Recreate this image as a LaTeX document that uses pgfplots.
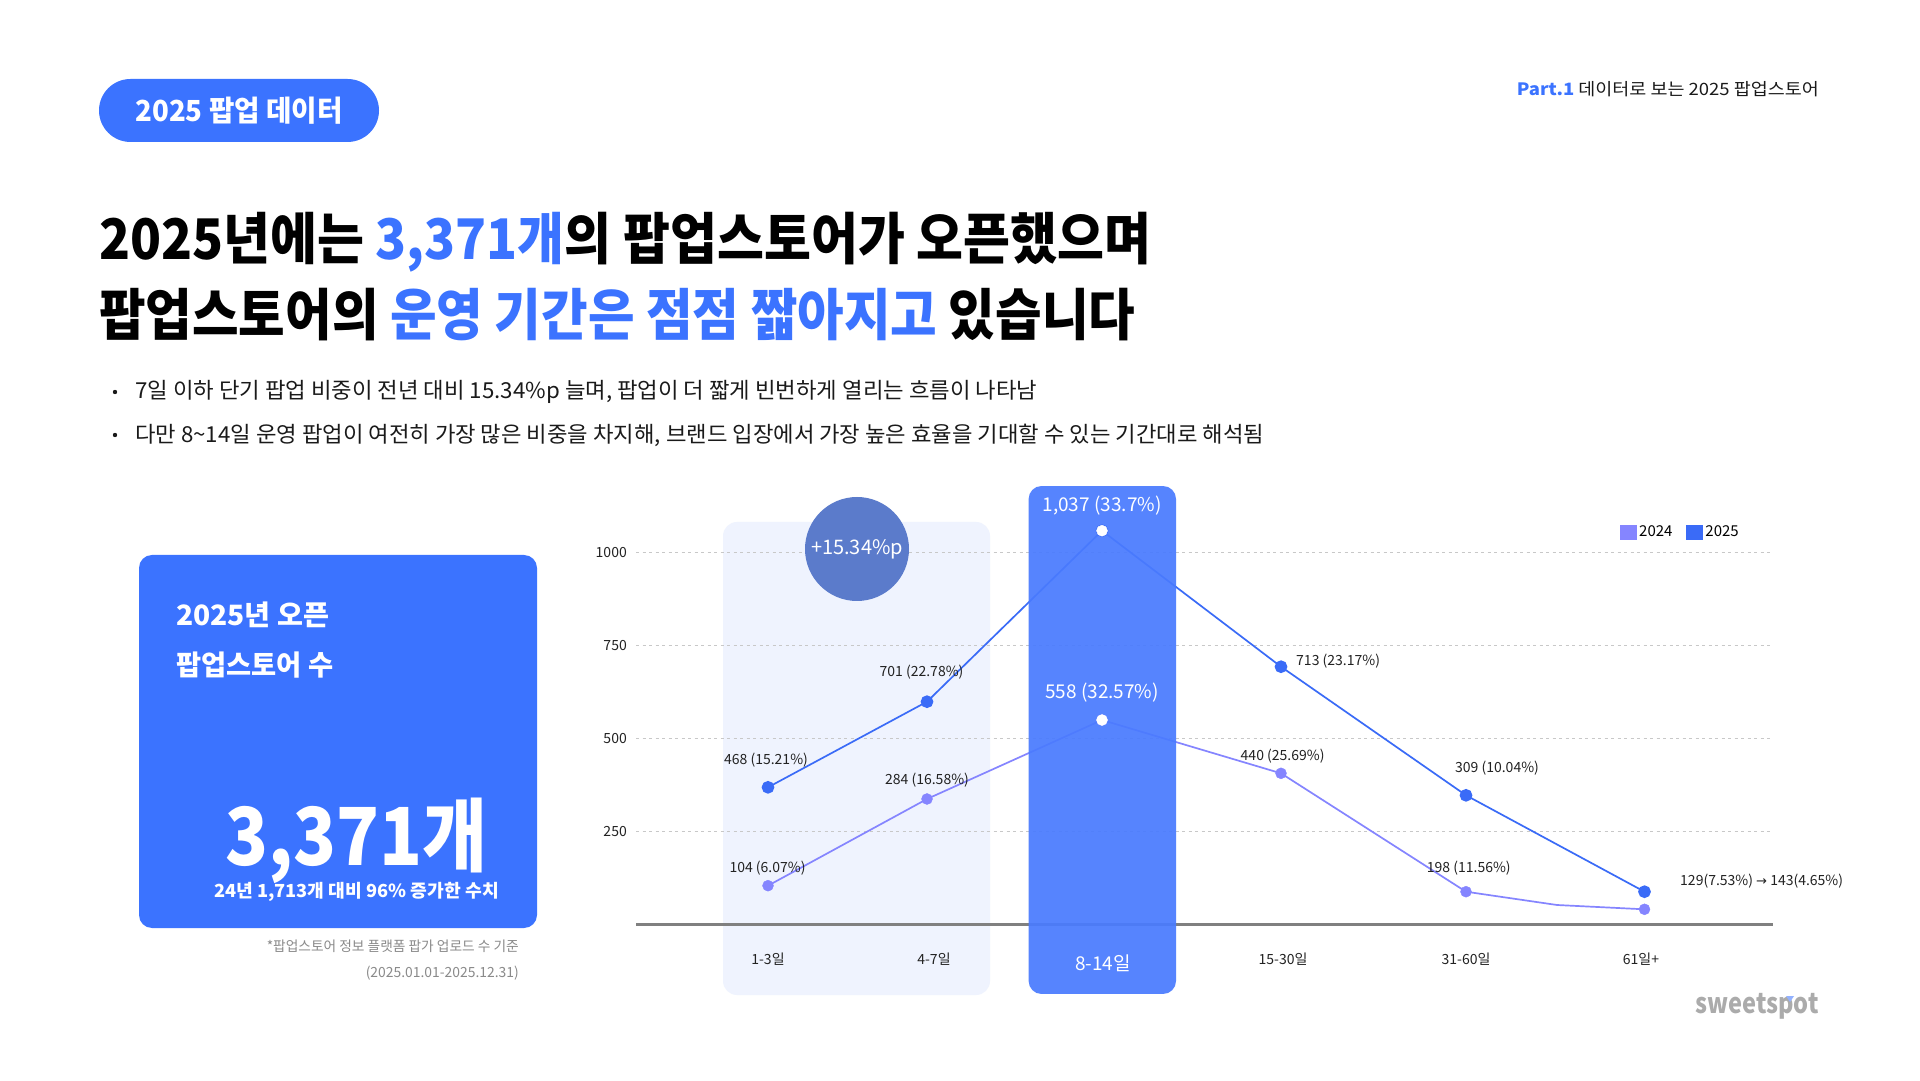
\documentclass[border=0pt]{standalone}
\usepackage{pgfplots}
\pgfplotsset{compat=1.18}
\usepackage{graphicx}
\usepackage{fontspec}
\setmainfont{Noto Sans CJK KR}
\newfontfamily\symfont{DejaVu Sans}
\definecolor{mainblue}{HTML}{3B73FF}
\definecolor{line25}{HTML}{3A6BF7}
\definecolor{line24}{HTML}{8585FF}
\definecolor{bandblue}{HTML}{4A7BFE}
\definecolor{lightband}{HTML}{EFF3FE}
\definecolor{circ}{HTML}{5B7BCB}
\definecolor{gridc}{HTML}{C8C8C8}
\definecolor{basec}{HTML}{808080}
\definecolor{footc}{HTML}{8A8A8A}
\definecolor{logoc}{HTML}{ABABAB}
\definecolor{txt}{HTML}{1A1A1A}
\definecolor{labc}{HTML}{222222}
\newcommand{\fs}[1]{\fontsize{#1pt}{#1pt}\selectfont}
\newcommand{\fitw}[2]{\resizebox{#1}{\height}{#2}}
\begin{document}
\begin{tikzpicture}[x=1pt,y=1pt]
\useasboundingbox (0,0) rectangle (1920,1080);
\fill[white] (0,0) rectangle (1920,1080);
% pill
\fill[mainblue, rounded corners=31.5pt] (99,938) rectangle (379,1001);
\node[text=white, inner sep=0pt] at (239,969.5) {\fitw{207pt}{\fs{29}\bfseries 2025 팝업 데이터}};
% top right
\node[anchor=east, inner sep=0pt, text=txt] at (1819,991) {\fitw{302pt}{\fs{17}{\bfseries\color{mainblue}Part.1} 데이터로 보는 2025 팝업스토어}};
% title
\node[anchor=base west, inner sep=0pt, text=black] at (99,820.4) {\fitw{1052pt}{\fs{56}\bfseries 2025년에는 {\color{mainblue}3,371개}의 팝업스토어가 오픈했으며}};
\node[anchor=base west, inner sep=0pt, text=black] at (99,744.4) {\fitw{1036pt}{\fs{56}\bfseries 팝업스토어의 {\color{mainblue}운영 기간은 점점 짧아지고} 있습니다}};
% bullets
\fill[txt] (115,688) circle (2.2);
\node[anchor=west, inner sep=0pt, text=txt] at (135,688) {\fitw{902pt}{\fs{22}7일 이하 단기 팝업 비중이 전년 대비 15.34\%p 늘며, 팝업이 더 짧게 빈번하게 열리는 흐름이 나타남}};
\fill[txt] (115,645) circle (2.2);
\node[anchor=west, inner sep=0pt, text=txt] at (135,645) {\fitw{1129pt}{\fs{22}다만 8\textasciitilde14일 운영 팝업이 여전히 가장 많은 비중을 차지해, 브랜드 입장에서 가장 높은 효율을 기대할 수 있는 기간대로 해석됨}};
% left box
\fill[mainblue, rounded corners=13pt] (139,152) rectangle (537,525);
\node[anchor=west, inner sep=0pt, text=white] at (176,465) {\fitw{153pt}{\fs{28}\bfseries 2025년 오픈}};
\node[anchor=west, inner sep=0pt, text=white] at (176,415) {\fitw{157pt}{\fs{28}\bfseries 팝업스토어 수}};
\node[anchor=base east, inner sep=0pt, text=white] at (488,215) {\fitw{262pt}{\fs{80}\bfseries 3,371개}};
\node[inner sep=0pt, text=white] at (356.5,188) {\fitw{285pt}{\fs{18}\bfseries 24년 1,713개 대비 96\% 증가한 수치}};
% footnote
\node[anchor=east, inner sep=0pt, text=footc] at (519,134) {\fitw{252pt}{\fs{14}*팝업스토어 정보 플랫폼 팝가 업로드 수 기준}};
\node[anchor=east, inner sep=0pt, text=footc] at (519,107) {\fitw{153pt}{\fs{14}(2025.01.01-2025.12.31)}};
% logo
\node[inner sep=0pt, text=logoc] at (1757,74) {\fitw{123pt}{\fs{28}\bfseries sweetspot}};
\fill[mainblue!55] (1786,84) -- (1794,84) -- (1790,78) -- cycle;
% light band
\fill[lightband, rounded corners=14pt] (723,85) rectangle (990,558);
\begin{axis}[
  at={(636pt,155.5pt)}, anchor=south west,
  scale only axis, width=1137pt, height=372.2pt,
  xmin=636, xmax=1773, ymin=0, ymax=1000,
  clip=false,
  axis line style={draw=none},
  major tick length=0pt,
  xtick=\empty,
  ytick={250,500,750,1000},
  yticklabels={250,500,750,1000},
  yticklabel style={font=\fs{14}, text=labc, inner sep=0pt, xshift=-9pt, anchor=east},
  ymajorgrids,
  grid style={gridc, line width=1.5pt, dash pattern=on 3pt off 3.5pt},
  legend columns=2,
  legend style={draw=none, fill=none, at={(0.8654,1.0545)}, anchor=west, font=\fs{15}, inner sep=0pt,
    /tikz/every even column/.append style={column sep=12pt}},
  legend image code/.code={\fill[#1] (0pt,-7.5pt) rectangle (17pt,7.5pt);},
]
\draw[basec, line width=3pt] (axis cs:636,0) -- (axis cs:1773,0);
% 2024
\addplot[forget plot, line24, line width=1.7pt] coordinates {(768,104.3) (927,337.2) (1102,549.4) (1281,406.2) (1466,88.1) (1557,52.4) (1644.5,40.8)};
\addplot[forget plot, only marks, mark=*, mark size=5.5pt, line24] coordinates {(768,104.3) (927,337.2) (1102,549.4) (1281,406.2) (1466,88.1) (1644.5,40.8)};
% 2025
\addplot[forget plot, line25, line width=1.7pt, mark=*, mark size=5.5pt] coordinates {(768,368.6) (927,598.6) (1102,1058) (1281,692.6) (1466,347.1) (1644.5,88.1)};
% highlight band
\fill[bandblue, opacity=0.93, rounded corners=13pt] (axis cs:1028.6,-186.7) rectangle (axis cs:1176,1178.1);
\addplot[forget plot, only marks, mark=*, mark size=5.5pt, white] coordinates {(1102,1058) (1102,549.4)};
% labels
\node[font=\fs{19}, text=white] at (axis cs:1102,1124.4) {1,037 (33.7\%)};
\node[font=\fs{19}, text=white] at (axis cs:1102,623.9) {558 (32.57\%)};
\node[font=\fs{14}, text=labc] at (axis cs:921.5,677.6) {701 (22.78\%)};
\node[font=\fs{14}, text=labc] at (axis cs:766,442) {468 (15.21\%)};
\node[font=\fs{14}, text=labc] at (axis cs:927,388.2) {284 (16.58\%)};
\node[font=\fs{14}, text=labc] at (axis cs:767.5,152.6) {104 (6.07\%)};
\node[font=\fs{14}, text=labc, anchor=west, inner sep=0pt] at (axis cs:1296,708) {713 (23.17\%)};
\node[font=\fs{14}, text=labc] at (axis cs:1282.6,452.7) {440 (25.69\%)};
\node[font=\fs{14}, text=labc] at (axis cs:1497,419.7) {309 (10.04\%)};
\node[font=\fs{14}, text=labc] at (axis cs:1468.8,151) {198 (11.56\%)};
\node[font=\fs{14}, text=labc, anchor=west, inner sep=0pt] at (axis cs:1680,117.7) {129(7.53\%) {\symfont\fs{13}→} 143(4.65\%)};
% x labels
\node[font=\fs{14}, text=labc] at (axis cs:768,-92.2) {1-3일};
\node[font=\fs{14}, text=labc] at (axis cs:934,-92.2) {4-7일};
\node[font=\fs{19}, text=white] at (axis cs:1103,-105.3) {8-14일};
\node[font=\fs{14}, text=labc] at (axis cs:1283,-92.2) {15-30일};
\node[font=\fs{14}, text=labc] at (axis cs:1466,-92.2) {31-60일};
\node[font=\fs{14}, text=labc] at (axis cs:1641,-92.2) {61일+};
\addlegendimage{fill=line24, draw=none}
\addlegendentry{2024}
\addlegendimage{fill=line25, draw=none}
\addlegendentry{2025}
\end{axis}
% circle
\fill[circ] (857,531) circle (52);
\node[text=white, inner sep=0pt] at (857,531) {\fs{20}+15.34\%p};
\end{tikzpicture}
\end{document}
